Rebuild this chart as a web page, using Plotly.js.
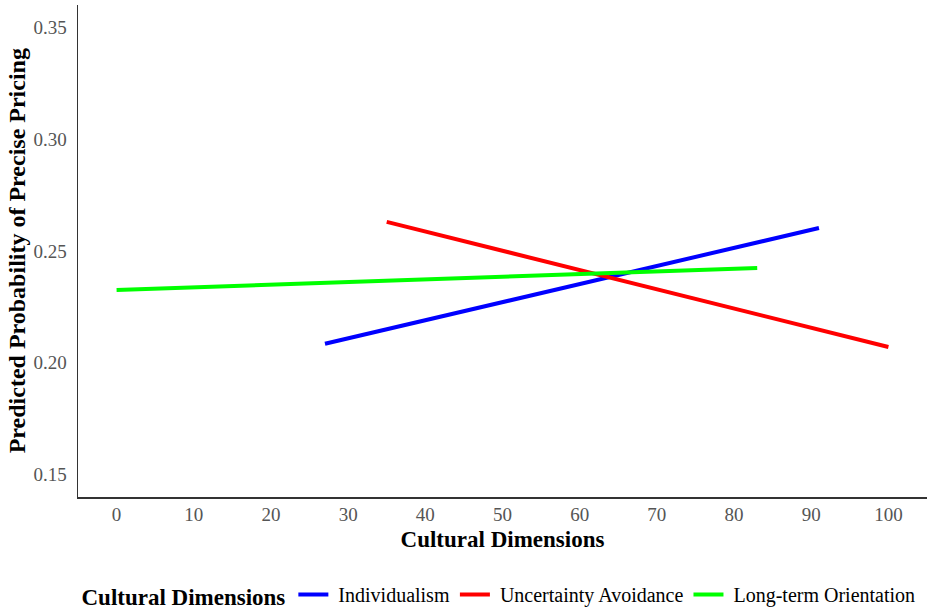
<!DOCTYPE html>
<html>
<head>
<meta charset="utf-8">
<script src="https://cdn.plot.ly/plotly-3.0.1.min.js"></script>
<style>
  body { margin: 0; background: #fff; }
  #chart { width: 935px; height: 614px; }
</style>
</head>
<body>
<div id="chart"></div>
<script>
// Predicted probability lines (start and end of each line)
const seriesNames = ['Individualism', 'Uncertainty Avoidance', 'Long-term Orientation'];
const seriesColors = ['#0000ff', '#ff0000', '#00ff00'];

const individualismX = [27, 91];
const individualismY = [0.2085, 0.2603];

const uncertaintyX = [35, 100];
const uncertaintyY = [0.263, 0.2071];

const longTermX = [0, 83];
const longTermY = [0.2326, 0.2424];

const xTicks = [0, 10, 20, 30, 40, 50, 60, 70, 80, 90, 100];
const yTicks = [0.15, 0.20, 0.25, 0.30, 0.35];

const serif = 'Liberation Serif, Times New Roman, serif';

function makeTrace(x, y, i) {
  return {
    x,
    y,
    // a no-break space opens the gap between key and label a little
    name: '\u00a0' + seriesNames[i],
    mode: 'lines',
    type: 'scatter',
    line: { color: seriesColors[i], width: 4 },
  };
}

const data = [
  makeTrace(individualismX, individualismY, 0),
  makeTrace(uncertaintyX, uncertaintyY, 1),
  makeTrace(longTermX, longTermY, 2),
];

const layout = {
  width: 935,
  height: 614,
  margin: { l: 78, r: 8, t: 5, b: 117 },
  paper_bgcolor: '#fff',
  plot_bgcolor: '#fff',
  font: { family: serif, color: '#000' },
  xaxis: {
    range: [-5, 105],
    tickvals: xTicks,
    ticktext: xTicks.map(String),
    showgrid: false,
    zeroline: false,
    showline: true,
    linecolor: '#333',
    linewidth: 1.5,
    ticks: '',
    ticklabelstandoff: 0,
    tickfont: { family: serif, size: 19, color: '#555' },
    title: {
      text: '<b>Cultural Dimensions</b>',
      font: { family: serif, size: 23, color: '#000' },
      standoff: 6,
    },
  },
  yaxis: {
    range: [0.14, 0.36],
    tickvals: yTicks,
    ticktext: yTicks.map(v => v.toFixed(2)),
    showgrid: false,
    zeroline: false,
    showline: true,
    linecolor: '#333',
    linewidth: 1.5,
    ticks: '',
    ticklabelstandoff: 6,
    tickfont: { family: serif, size: 19, color: '#555' },
  },
  // y title as an annotation so it can sit closer to the tick labels
  annotations: [{
    text: '<b>Predicted Probability of Precise Pricing</b>',
    xref: 'paper',
    yref: 'paper',
    x: -0.0715,
    y: 0.5,
    xanchor: 'center',
    yanchor: 'middle',
    textangle: -90,
    showarrow: false,
    font: { family: serif, size: 24, color: '#000' },
  }],
  showlegend: true,
  legend: {
    orientation: 'h',
    xref: 'container',
    yref: 'container',
    x: 0.085,
    xanchor: 'left',
    y: 0.031,
    yanchor: 'middle',
    font: { family: serif, size: 20, color: '#000' },
    title: { text: '<b>Cultural Dimensions</b>', font: { family: serif, size: 23, color: '#000' } },
    itemwidth: 30,
  },
};

const config = { staticPlot: true, responsive: false };

Plotly.newPlot('chart', data, layout, config);
</script>
</body>
</html>
